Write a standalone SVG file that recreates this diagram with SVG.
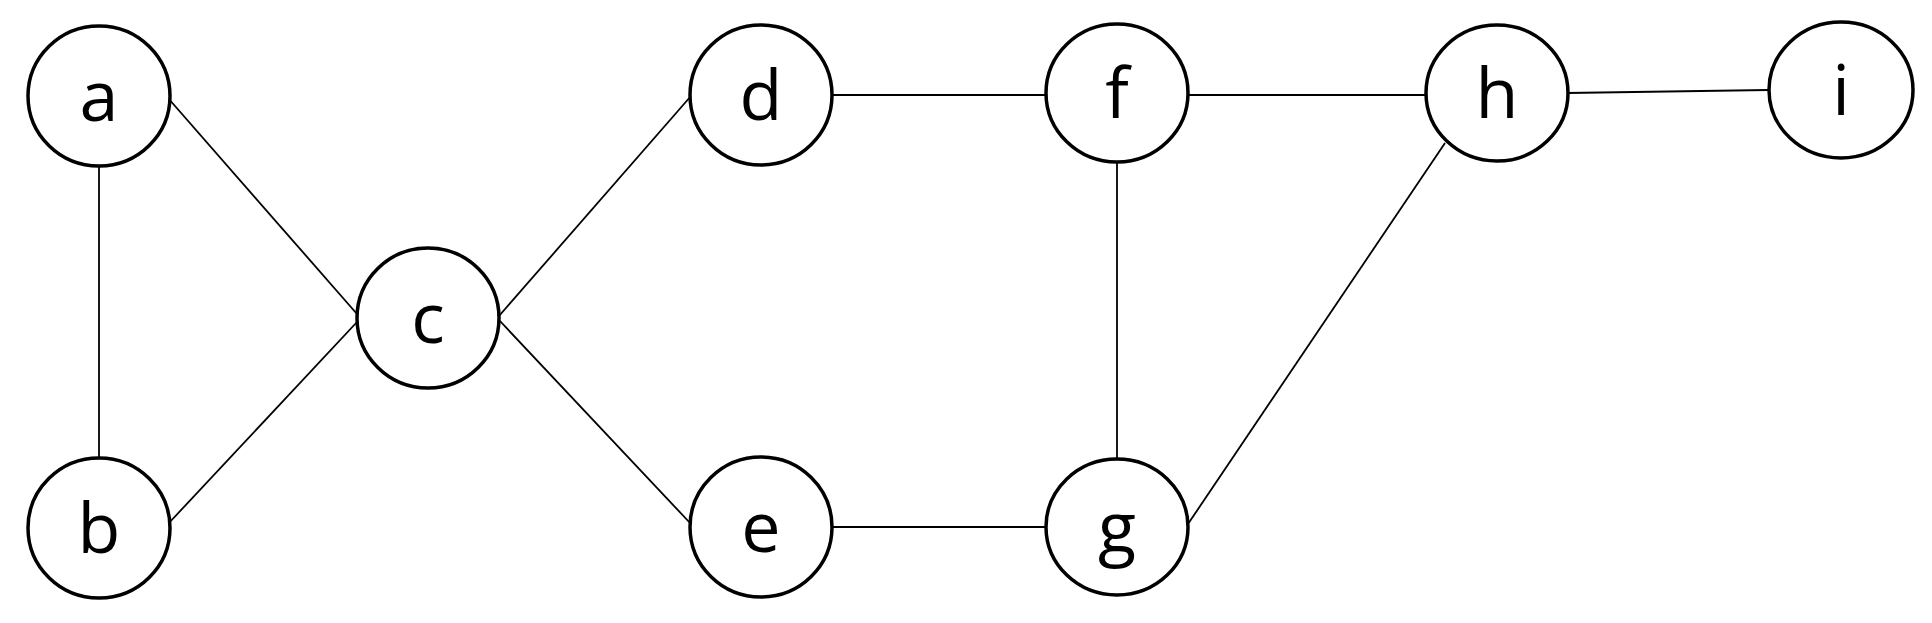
<svg xmlns="http://www.w3.org/2000/svg" width="1932" height="623" viewBox="0 0 1932 623">
<style>
.n ellipse{fill:#fff;stroke:#000;stroke-width:3.5}
.n text{font-family:"Open Sans","DejaVu Sans",sans-serif;font-size:70px;text-anchor:middle;fill:#000}
.e line{stroke:#000;stroke-width:1.8}
</style>
<rect width="1932" height="623" fill="#fff"/>
<g class="e" id="edges">
<line x1="99" y1="167" x2="99" y2="457"/>
<line x1="168" y1="98" x2="357" y2="314"/>
<line x1="168" y1="524" x2="357" y2="322"/>
<line x1="499" y1="316" x2="691" y2="96"/>
<line x1="499" y1="320" x2="691" y2="524"/>
<line x1="832" y1="95" x2="1046" y2="95"/>
<line x1="832" y1="527" x2="1046" y2="527"/>
<line x1="1117" y1="163" x2="1117" y2="460"/>
<line x1="1188" y1="95" x2="1426" y2="95"/>
<line x1="1188" y1="524" x2="1445" y2="143"/>
<line x1="1567" y1="93" x2="1768" y2="90"/>
</g>
<g class="n" id="a"><ellipse cx="99" cy="96" rx="71" ry="70"/><text x="99" y="121">a</text></g>
<g class="n" id="b"><ellipse cx="99" cy="528" rx="71" ry="70"/><text x="99" y="553">b</text></g>
<g class="n" id="c"><ellipse cx="428" cy="318" rx="71" ry="70"/><text x="428" y="343">c</text></g>
<g class="n" id="d"><ellipse cx="761" cy="95" rx="71" ry="70"/><text x="761" y="120">d</text></g>
<g class="n" id="e"><ellipse cx="761" cy="527" rx="71" ry="70"/><text x="761" y="552">e</text></g>
<g class="n" id="f"><ellipse cx="1117" cy="93" rx="71" ry="69"/><text x="1117" y="118">f</text></g>
<g class="n" id="g"><ellipse cx="1117" cy="527" rx="71" ry="68"/><text x="1117" y="552">g</text></g>
<g class="n" id="h"><ellipse cx="1497" cy="93" rx="71" ry="68"/><text x="1497" y="118">h</text></g>
<g class="n" id="i"><ellipse cx="1841" cy="90" rx="72" ry="68"/><text x="1841" y="115">i</text></g>
</svg>
